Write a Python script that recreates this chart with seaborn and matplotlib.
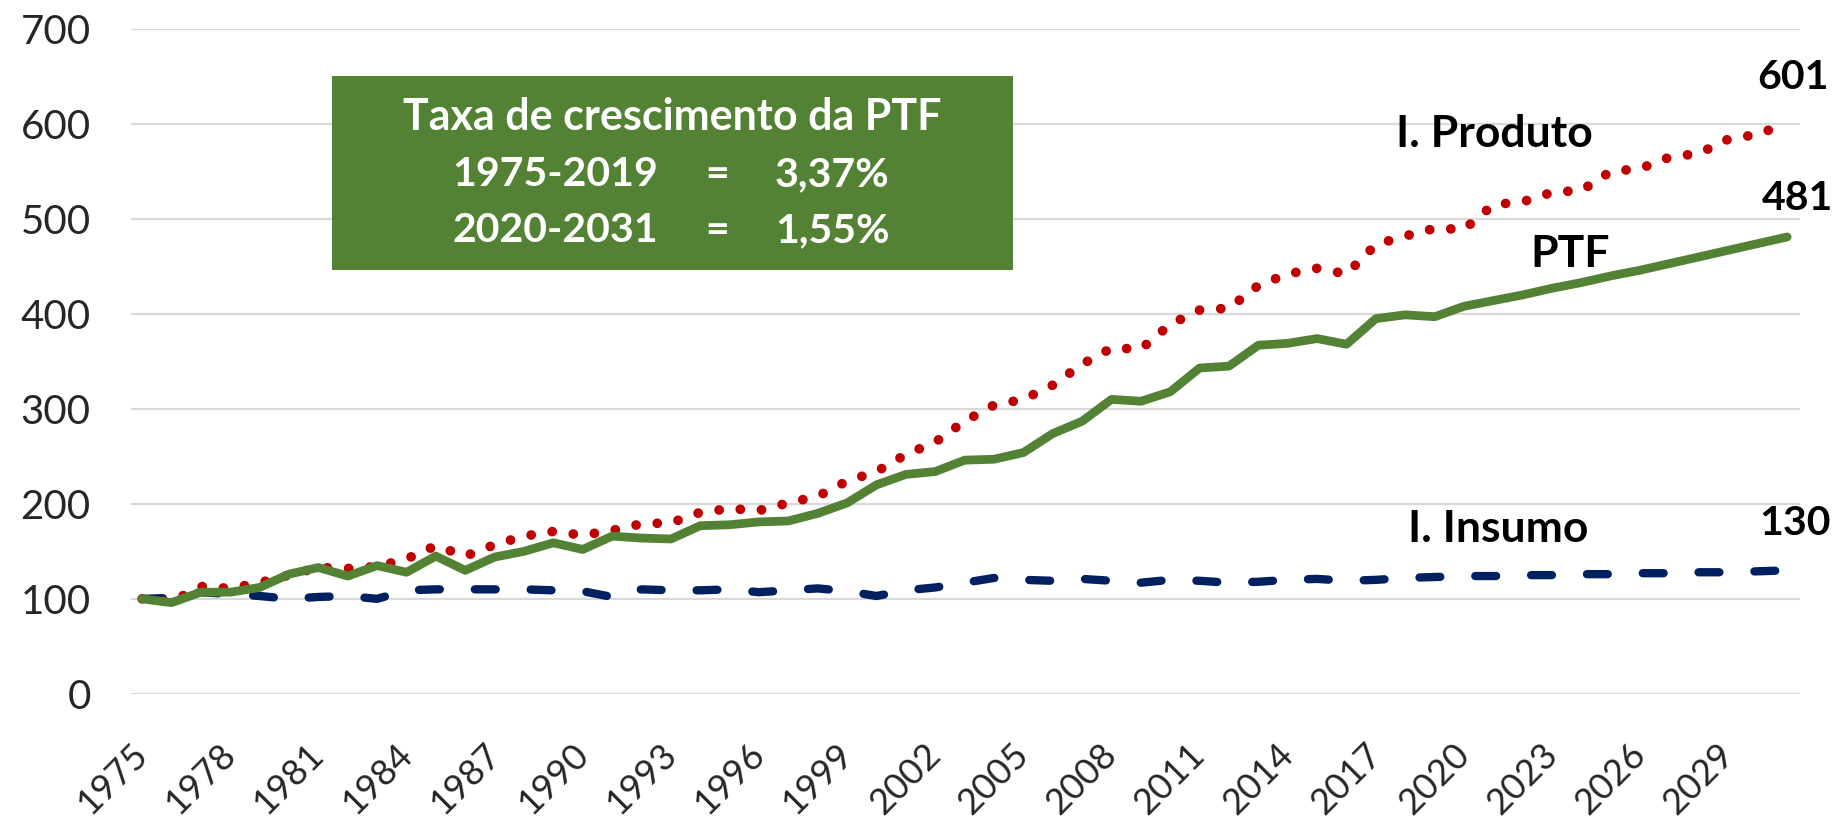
import matplotlib
matplotlib.use("Agg")
import matplotlib.pyplot as plt
from matplotlib.patches import Rectangle
from matplotlib.transforms import ScaledTranslation
import seaborn as sns
import pandas as pd

years = list(range(1975, 2032))

ptf = [100, 96, 107, 107, 112, 126, 133, 124, 135, 128,
       145, 130, 144, 150, 159, 152, 166, 164, 163, 177,
       178, 181, 182, 190, 201, 220, 231, 234, 246, 247,
       254, 274, 287, 310, 308, 318, 343, 345, 367, 369,
       374, 368, 395, 399, 397, 408, 414, 420, 427, 433,
       440, 446, 453, 460, 467, 474, 481]

produto = [100, 97, 113, 111, 117, 125, 133, 132, 134, 142,
           156, 145, 157, 166, 171, 167, 172, 179, 180, 191,
           195, 193, 201, 208, 224, 234, 252, 265, 287, 304,
           310, 325, 347, 364, 363, 389, 404, 406, 430, 442,
           448, 442, 473, 482, 490, 489, 515, 518, 528, 530,
           550, 553, 565, 569, 584, 589, 601]

insumo = [100, 101, 107, 105, 103, 100, 102, 103, 100, 109,
          110, 110, 110, 110, 109, 108, 102, 110, 109, 109,
          110, 107, 109, 111, 108, 103, 109, 112, 117, 122,
          120, 119, 121, 119, 117, 120, 119, 117, 118, 120,
          121, 119, 120, 122, 123, 124, 124, 125, 125, 126,
          126, 127, 127, 128, 128, 129, 130]

xtick_years = list(range(1975, 2030, 3))
yticks = list(range(0, 701, 100))

box_title = "Taxa de crescimento da PTF"
box_periods = ["1975-2019", "2020-2031"]
box_rates = ["3,37%", "1,55%"]

GREEN = "#548235"
RED = "#C00000"
NAVY = "#002060"

sns.set_theme(style="white")
plt.rcParams['font.family'] = ['Lato', 'DejaVu Sans']

df = pd.DataFrame({"ano": years, "PTF": ptf, "Produto": produto, "Insumo": insumo})

fig = plt.figure(figsize=(18.39, 8.26), dpi=100)
ax = fig.add_axes([0.0712, 0.160, 0.9078, 0.805])

sns.lineplot(data=df, x="ano", y="Insumo", ax=ax, color=NAVY, linewidth=6)
ln_ins = ax.lines[-1]
ln_ins.set_linestyle((0, (2.5, 4.2)))
ln_ins.set_dash_capstyle("round")

sns.lineplot(data=df, x="ano", y="Produto", ax=ax, color=RED, linewidth=7)
ln_pro = ax.lines[-1]
ln_pro.set_linestyle((0, (0.01, 2.18)))
ln_pro.set_dash_capstyle("round")

sns.lineplot(data=df, x="ano", y="PTF", ax=ax, color=GREEN, linewidth=6.3)
ax.lines[-1].set_solid_capstyle("round")

ax.set_xlim(1974.62, 2031.45)
ax.set_ylim(0, 700)
ax.set_yticks(yticks)
ax.set_yticklabels([str(v) for v in yticks], fontsize=29)
ax.set_xticks(xtick_years)
ax.set_xticklabels([str(y) for y in xtick_years], fontsize=26, rotation=45,
                   ha="right", va="center", rotation_mode="anchor")
shift = ScaledTranslation(0.05, 0, fig.dpi_scale_trans)
for lab in ax.get_xticklabels():
    lab.set_transform(lab.get_transform() + shift)
ax.tick_params(axis="x", pad=40, length=0)
ax.tick_params(axis="y", pad=29, length=0)
ax.set_xlabel("")
ax.set_ylabel("")
ax.grid(axis="y", color="#D9D9D9", linewidth=1.6)
ax.grid(axis="x", visible=False)
ax.set_axisbelow(True)
for s in ax.spines.values():
    s.set_visible(False)

# Annotation box
ax.add_patch(Rectangle((1981.47, 446), 2004.66 - 1981.47, 650 - 446,
                       facecolor=GREEN, edgecolor="none", zorder=3))
tkw = dict(ha="center", va="center", fontweight="bold", color="white", zorder=4)
ax.text(1993.05, 607, box_title, fontsize=31, **tkw)
for yv, per, rate in zip([547, 488], box_periods, box_rates):
    ax.text(1989.06, yv, per, fontsize=29.5, **tkw)
    ax.text(1994.58, yv, "=", fontsize=29.5, **tkw)
    ax.text(1998.5, yv, rate, fontsize=29.5, **tkw)

lkw = dict(ha="center", va="center", fontsize=32, fontweight="bold", color="black")
ax.text(2021.05, 589, "I. Produto", **lkw)
ax.text(2023.6, 463, "PTF", **lkw)
ax.text(2021.15, 174, "I. Insumo", **lkw)
nkw = dict(ha="center", va="center", fontsize=29.5, fontweight="bold", color="black")
ax.text(2031.2, 649, str(produto[-1]), **nkw)
ax.text(2031.35, 521, str(ptf[-1]), **nkw)
ax.text(2031.25, 179, str(insumo[-1]), **nkw)

fig.savefig("out.png", dpi=100)
